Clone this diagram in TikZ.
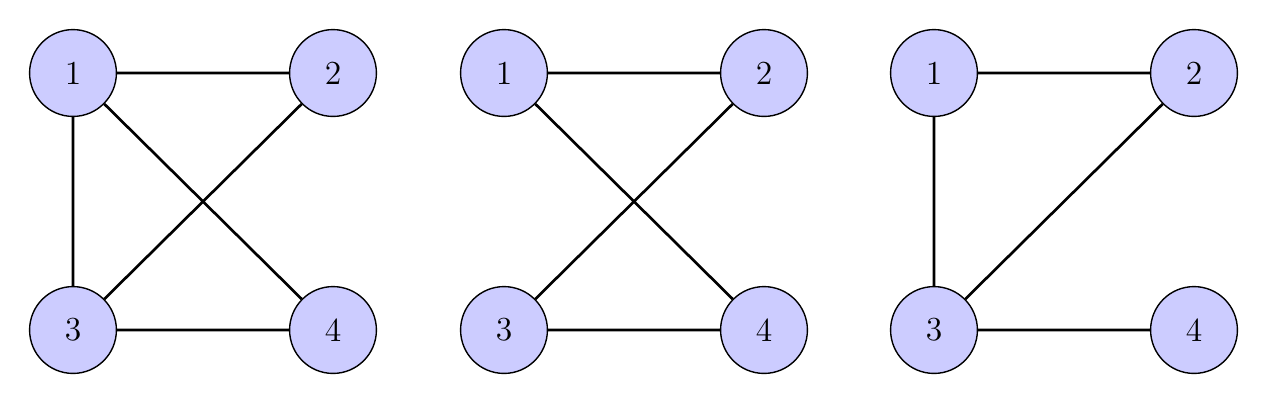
\documentclass[tikz,border=0pt]{standalone}
\begin{document}
\begin{tikzpicture}[x=0.357pt,y=-0.357pt,
  vert/.style={circle,draw=black,line width=0.5pt,fill=blue!20,minimum size=31pt,inner sep=0pt,font=\large},
  edge/.style={line width=0.95pt}]
\useasboundingbox (0,0) rectangle (1268,404);
\foreach \g/\ox in {a/73,b/504,c/934}{
  \node[vert] (\g1) at (\ox,73) {1};
  \node[vert] (\g2) at (\ox+260,73) {2};
  \node[vert] (\g3) at (\ox,330) {3};
  \node[vert] (\g4) at (\ox+260,330) {4};
}
\draw[edge] (a1)--(a2) (a1)--(a3) (a1)--(a4) (a2)--(a3) (a3)--(a4);
\draw[edge] (b1)--(b2) (b1)--(b4) (b2)--(b3) (b3)--(b4);
\draw[edge] (c1)--(c2) (c1)--(c3) (c2)--(c3) (c3)--(c4);
\end{tikzpicture}
\end{document}
